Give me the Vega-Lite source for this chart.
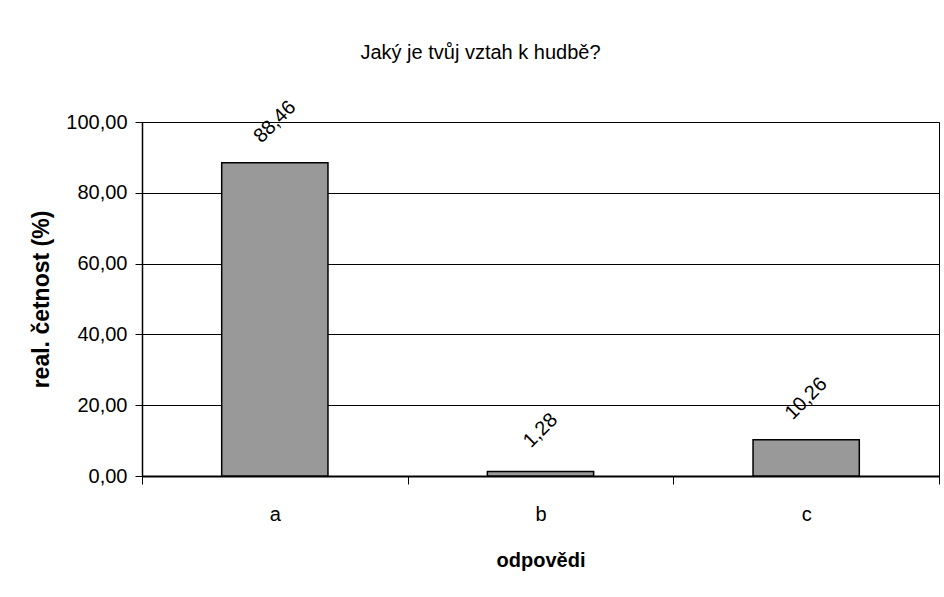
{
  "$schema": "https://vega.github.io/schema/vega-lite/v6.json",
  "width": 797,
  "height": 354,
  "autosize": "none",
  "padding": {"left": 142, "top": 122, "right": 5, "bottom": 121},
  "background": "white",
  "title": {
    "text": "Jaký je tvůj vztah k hudbě?",
    "font": "Liberation Sans",
    "fontSize": 20,
    "fontWeight": "normal",
    "color": "black",
    "anchor": "middle",
    "dx": -60,
    "offset": 34
  },
  "data": {
    "values": [
      {"odpoved": "a", "cetnost": 88.46},
      {"odpoved": "b", "cetnost": 1.28},
      {"odpoved": "c", "cetnost": 10.26}
    ]
  },
  "encoding": {
    "x": {
      "field": "odpoved",
      "type": "nominal",
      "scale": {"paddingInner": 0, "paddingOuter": 0},
      "axis": {
        "title": "odpovědi",
        "labelAngle": 0,
        "tickBand": "extent",
        "tickSize": 8,
        "tickColor": "black",
        "tickWidth": 1,
        "domainColor": "black",
        "domainWidth": 2,
        "labelPadding": 20,
        "labelFont": "Liberation Sans",
        "labelFontSize": 20,
        "labelColor": "black",
        "titleFont": "Liberation Sans",
        "titleFontSize": 20,
        "titleFontWeight": "bold",
        "titleColor": "black",
        "titlePadding": 26
      }
    },
    "y": {
      "field": "cetnost",
      "type": "quantitative",
      "scale": {"domain": [0, 100], "nice": false},
      "axis": {
        "title": "real. četnost (%)",
        "values": [0, 20, 40, 60, 80, 100],
        "format": ".2f",
        "grid": true,
        "gridColor": "black",
        "gridWidth": 1,
        "gridOpacity": 1,
        "tickSize": 7,
        "tickColor": "black",
        "tickWidth": 1,
        "domainColor": "black",
        "domainWidth": 1.5,
        "labelPadding": 8,
        "labelFont": "Liberation Sans",
        "labelFontSize": 20,
        "labelColor": "black",
        "titleFont": "Liberation Sans",
        "titleFontSize": 23,
        "titleFontWeight": "bold",
        "titleColor": "black",
        "titlePadding": 12
      }
    }
  },
  "layer": [
    {
      "mark": {
        "type": "bar",
        "width": {"band": 0.4},
        "color": "#999999",
        "stroke": "black",
        "strokeWidth": 1.5
      }
    },
    {
      "mark": {
        "type": "text",
        "angle": -45,
        "yOffset": -41,
        "align": "center",
        "baseline": "middle",
        "font": "Liberation Sans",
        "fontSize": 20,
        "color": "black"
      },
      "encoding": {
        "text": {"field": "cetnost", "type": "quantitative", "format": ".2f"}
      }
    }
  ],
  "config": {
    "locale": {
      "number": {
        "decimal": ",",
        "thousands": "",
        "grouping": [3],
        "currency": ["", ""]
      }
    },
    "view": {"stroke": "black", "strokeWidth": 1}
  }
}
